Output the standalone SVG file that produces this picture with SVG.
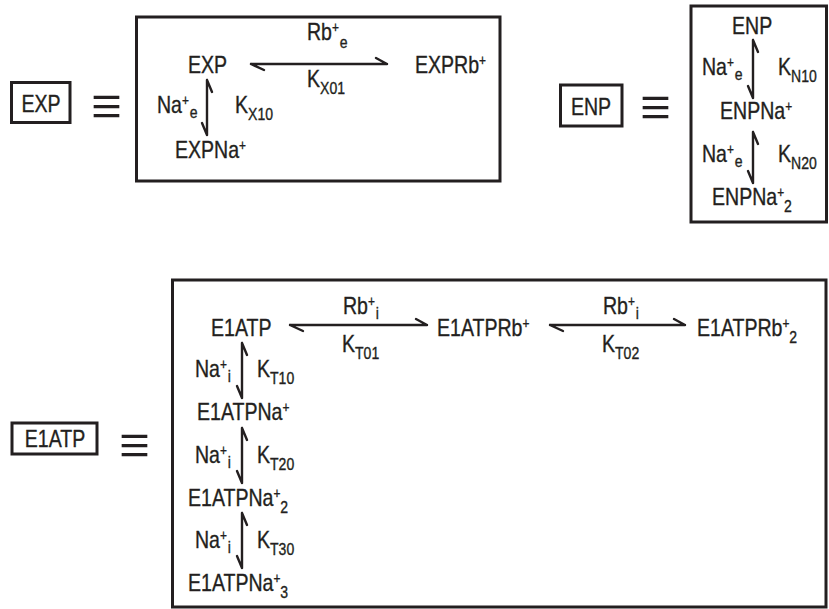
<svg xmlns="http://www.w3.org/2000/svg" width="829" height="609" viewBox="0 0 829 609">
<style>
.t{font-family:"Liberation Sans",Arial,sans-serif;font-size:23px;fill:#231f20;stroke:#231f20;stroke-width:0.35}
.m{text-anchor:middle}
.sup{font-size:14px}
.sub{font-size:16.5px}
.eq{font-family:"Liberation Serif","Times New Roman",serif;font-size:46px;fill:#231f20;text-anchor:middle}
.box{fill:none;stroke:#231f20;stroke-width:3}
.arr{fill:none;stroke:#231f20;stroke-width:2.4;stroke-linecap:round;stroke-linejoin:round}
</style>
<rect width="829" height="609" fill="#ffffff"/>

<g id="exp-label">
<rect class="box" x="11.5" y="82.5" width="58.5" height="40"/>
<text class="t m" transform="translate(41,111.5) scale(0.85,1)">EXP</text>
<text class="eq" transform="translate(106.5,127.5) scale(1.2,1.4)">≡</text>
</g>
<g id="exp-box"><rect class="box" x="136.5" y="17" width="363.5" height="164"/></g>
<g id="exp"><text class="t" transform="translate(188,73) scale(0.85,1)">EXP</text></g>
<g id="exprb"><text class="t" transform="translate(415,73) scale(0.85,1)">EXPRb<tspan class="sup" dy="-8">+</tspan></text></g>
<g id="expna"><text class="t" transform="translate(175,158) scale(0.85,1)">EXPNa<tspan class="sup" dy="-8">+</tspan></text></g>

<g id="enp-label">
<rect class="box" x="560.5" y="85" width="61.5" height="41"/>
<text class="t m" transform="translate(591,115) scale(0.85,1)">ENP</text>
<text class="eq" transform="translate(655.5,129) scale(1.2,1.4)">≡</text>
</g>
<g id="enp-box"><rect class="box" x="691" y="6" width="135.5" height="216"/></g>
<g id="enp"><text class="t" transform="translate(732,34) scale(0.85,1)">ENP</text></g>
<g id="enpna"><text class="t" transform="translate(720,119) scale(0.85,1)">ENPNa<tspan class="sup" dy="-8">+</tspan></text></g>
<g id="enpna2"><text class="t" transform="translate(712,205) scale(0.85,1)">ENPNa<tspan class="sup" dy="-8">+</tspan><tspan class="sub" dy="15">2</tspan></text></g>

<g id="e1atp-label">
<rect class="box" x="12" y="423" width="85" height="31"/>
<text class="t m" transform="translate(55,446.5) scale(0.85,1)">E1ATP</text>
<text class="eq" transform="translate(134.5,466.5) scale(1.2,1.4)">≡</text>
</g>
<g id="e1atp-box"><rect class="box" x="172.5" y="280" width="653.5" height="327"/></g>
<g id="e1atp"><text class="t" transform="translate(211,336) scale(0.85,1)">E1ATP</text></g>
<g id="e1atprb"><text class="t" transform="translate(437,336) scale(0.85,1)">E1ATPRb<tspan class="sup" dy="-8">+</tspan></text></g>
<g id="e1atprb2"><text class="t" transform="translate(697,336) scale(0.85,1)">E1ATPRb<tspan class="sup" dy="-8">+</tspan><tspan class="sub" dy="15">2</tspan></text></g>
<g id="e1atpna"><text class="t" transform="translate(197,420) scale(0.85,1)">E1ATPNa<tspan class="sup" dy="-8">+</tspan></text></g>
<g id="e1atpna2"><text class="t" transform="translate(188,506) scale(0.85,1)">E1ATPNa<tspan class="sup" dy="-8">+</tspan><tspan class="sub" dy="15">2</tspan></text></g>
<g id="e1atpna3"><text class="t" transform="translate(188,591) scale(0.85,1)">E1ATPNa<tspan class="sup" dy="-8">+</tspan><tspan class="sub" dy="15">3</tspan></text></g>

<g id="connectors">
<path class="arr" d="M251,64 L387,64 M251,64 L264,70 M387,64 L376,58"/>
<path class="arr" d="M207,80 L207,135 M207,80 L212,92 M207,135 L202,123"/>
<path class="arr" d="M753,40 L753,98 M753,40 L758,52 M753,98 L748,86"/>
<path class="arr" d="M753,132 L753,183 M753,132 L758,144 M753,183 L748,171"/>
<path class="arr" d="M290,325 L427,325 M290,325 L303,331 M427,325 L416,319"/>
<path class="arr" d="M550,325 L685,325 M550,325 L563,331 M685,325 L674,319"/>
<path class="arr" d="M242,343 L242,398 M242,343 L247,355 M242,398 L237,386"/>
<path class="arr" d="M242,428 L242,483 M242,428 L247,440 M242,483 L237,471"/>
<path class="arr" d="M242,513 L242,568 M242,513 L247,525 M242,568 L237,556"/>
</g>

<g id="labels">
<text class="t" transform="translate(307,40) scale(0.85,1)">Rb<tspan class="sup" dy="-8">+</tspan><tspan class="sub" dy="16" dx="1">e</tspan></text>
<text class="t" transform="translate(307,87) scale(0.85,1)">K<tspan class="sub" dy="7">X01</tspan></text>
<text class="t" transform="translate(157,113) scale(0.85,1)">Na<tspan class="sup" dy="-8">+</tspan><tspan class="sub" dy="13" dx="1">e</tspan></text>
<text class="t" transform="translate(235,113) scale(0.85,1)">K<tspan class="sub" dy="7">X10</tspan></text>

<text class="t" transform="translate(702,75) scale(0.85,1)">Na<tspan class="sup" dy="-8">+</tspan><tspan class="sub" dy="13" dx="1">e</tspan></text>
<text class="t" transform="translate(778,75) scale(0.85,1)">K<tspan class="sub" dy="7">N10</tspan></text>
<text class="t" transform="translate(702,162) scale(0.85,1)">Na<tspan class="sup" dy="-8">+</tspan><tspan class="sub" dy="13" dx="1">e</tspan></text>
<text class="t" transform="translate(778,162) scale(0.85,1)">K<tspan class="sub" dy="7">N20</tspan></text>

<text class="t" transform="translate(343,314) scale(0.85,1)">Rb<tspan class="sup" dy="-8">+</tspan><tspan class="sub" dy="13" dx="1">i</tspan></text>
<text class="t" transform="translate(342,352) scale(0.85,1)">K<tspan class="sub" dy="7">T01</tspan></text>
<text class="t" transform="translate(603,314) scale(0.85,1)">Rb<tspan class="sup" dy="-8">+</tspan><tspan class="sub" dy="13" dx="1">i</tspan></text>
<text class="t" transform="translate(602,352) scale(0.85,1)">K<tspan class="sub" dy="7">T02</tspan></text>

<text class="t" transform="translate(195,377) scale(0.85,1)">Na<tspan class="sup" dy="-8">+</tspan><tspan class="sub" dy="13" dx="1">i</tspan></text>
<text class="t" transform="translate(257,377) scale(0.85,1)">K<tspan class="sub" dy="7">T10</tspan></text>
<text class="t" transform="translate(195,463) scale(0.85,1)">Na<tspan class="sup" dy="-8">+</tspan><tspan class="sub" dy="13" dx="1">i</tspan></text>
<text class="t" transform="translate(257,463) scale(0.85,1)">K<tspan class="sub" dy="7">T20</tspan></text>
<text class="t" transform="translate(195,548) scale(0.85,1)">Na<tspan class="sup" dy="-8">+</tspan><tspan class="sub" dy="13" dx="1">i</tspan></text>
<text class="t" transform="translate(257,548) scale(0.85,1)">K<tspan class="sub" dy="7">T30</tspan></text>
</g>
</svg>
